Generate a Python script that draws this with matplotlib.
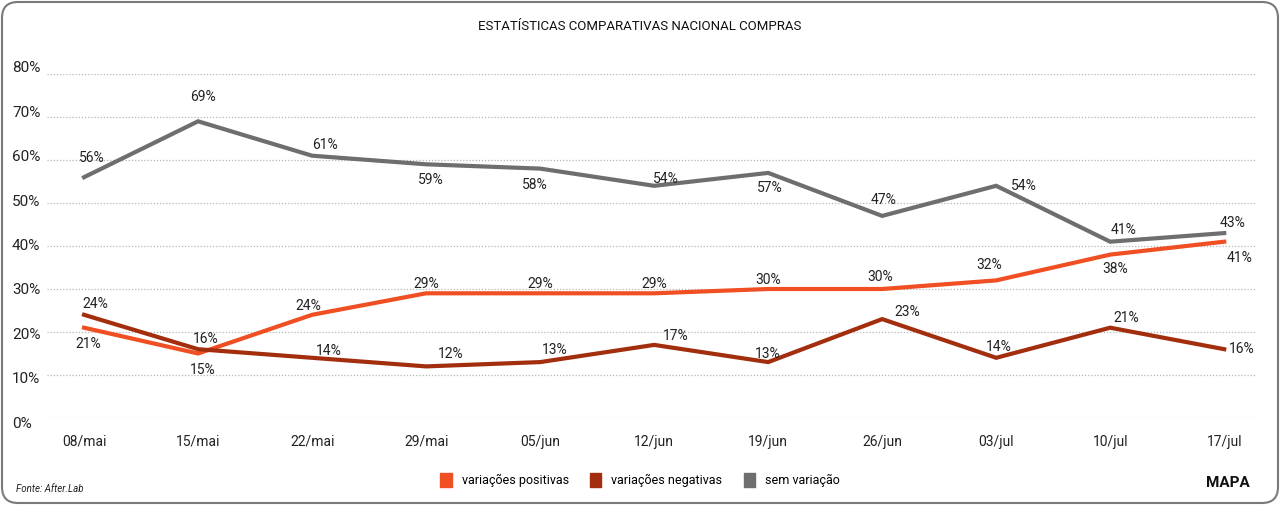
import matplotlib
matplotlib.use("Agg")
import matplotlib.pyplot as plt
from matplotlib.patches import Patch, FancyBboxPatch
from matplotlib.transforms import blended_transform_factory, IdentityTransform

plt.rcParams["font.family"] = ["Roboto", "DejaVu Sans"]

DATES = ["08/mai", "15/mai", "22/mai", "29/mai", "05/jun", "12/jun",
         "19/jun", "26/jun", "03/jul", "10/jul", "17/jul"]
POSITIVAS = [21, 15, 24, 29, 29, 29, 30, 30, 32, 38, 41]
NEGATIVAS = [24, 16, 14, 12, 13, 17, 13, 23, 14, 21, 16]
SEM_VAR = [56, 69, 61, 59, 58, 54, 57, 47, 54, 41, 43]
Y_TICKS = [0, 10, 20, 30, 40, 50, 60, 70, 80]

C_POS = "#f04e23"
C_NEG = "#a32e0e"
C_SEM = "#6e6e6e"

# label offsets in pixels (dx, dy up)
OFF_POS = [(4, -16), (5, -16), (-4, 9), (0, 9), (0, 9), (0, 9), (0, 9),
           (-2, 12), (-7, 15), (5, -14), (15, -16)]
OFF_NEG = [(11, 11), (8, 10), (17, 7), (25, 12), (15, 12), (22, 9), (0, 8),
           (25, 7), (3, 11), (16, 10), (18, 0)]
OFF_SEM = [(8, 19), (5, 24), (13, 11), (5, -16), (-5, -16), (12, 7),
           (2, -15), (1, 16), (28, 0), (13, 12), (8, 10)]

W, H, DPI = 1280, 505, 100
fig = plt.figure(figsize=(W / DPI, H / DPI), dpi=DPI)
ax = fig.add_axes([47 / W, 1 - 418 / H, (1255 - 47) / W, (418 - 74) / H])

x = list(range(len(DATES)))
for vals, col, offs in [(SEM_VAR, C_SEM, OFF_SEM),
                        (POSITIVAS, C_POS, OFF_POS),
                        (NEGATIVAS, C_NEG, OFF_NEG)]:
    ax.plot(x, vals, color=col, lw=3, solid_joinstyle="miter", zorder=3)
    for xi, v, (dx, dy) in zip(x, vals, offs):
        ax.annotate(f"{v}%", (xi, v), xytext=(dx, dy),
                    textcoords="offset pixels", ha="center", va="center",
                    fontsize=10, color="#222222", zorder=4)

ax.set_ylim(0, 80)
ax.set_xlim(-0.325, 10.27)
for t in Y_TICKS:
    ax.axhline(t, color="#b5b5b5", lw=0.9, ls=(0, (1, 1.5)), zorder=1)

ax.set_yticks([])
ax.set_xticks(x)
ax.set_xticklabels(DATES, fontsize=10, color="#222222")
ax.tick_params(axis="x", length=0, pad=12)
for s in ax.spines.values():
    s.set_visible(False)

trans = blended_transform_factory(fig.transFigure, ax.transData)
for t in Y_TICKS:
    ax.annotate(f"{t}%", (12 / W, t), xycoords=trans,
                xytext=(0, (t - 40) / 40 * 5.5), textcoords="offset pixels",
                ha="left", va="center", fontsize=11, color="#222222",
                annotation_clip=False)

fig.text(0.5, 1 - 27 / H, "ESTATÍSTICAS COMPARATIVAS NACIONAL COMPRAS",
         ha="center", va="center", fontsize=9.5, color="#111111")

handles = [Patch(color=C_POS, label="variações positivas"),
           Patch(color=C_NEG, label="variações negativas"),
           Patch(color=C_SEM, label="sem variação")]
fig.legend(handles=handles, loc="center", bbox_to_anchor=(0.5, 1 - 480 / H),
           ncol=3, frameon=False, fontsize=9, handlelength=0.9,
           handleheight=1.4, handletextpad=0.8, columnspacing=1.7)

fig.text(16 / W, 1 - 489 / H, "Fonte: After.Lab", ha="left", va="center",
         fontsize=7, style="italic", color="#222222")
fig.text(1250 / W, 1 - 483 / H, "MAPA", ha="right", va="center",
         fontsize=11, weight="bold", color="#111111")

border = FancyBboxPatch((2, 2), W - 4, H - 4,
                        boxstyle="round,pad=0,rounding_size=16",
                        transform=IdentityTransform(), fill=False,
                        ec="#7a7a7a", lw=1.5)
fig.add_artist(border)

fig.savefig("out.png", dpi=DPI, facecolor="white")
